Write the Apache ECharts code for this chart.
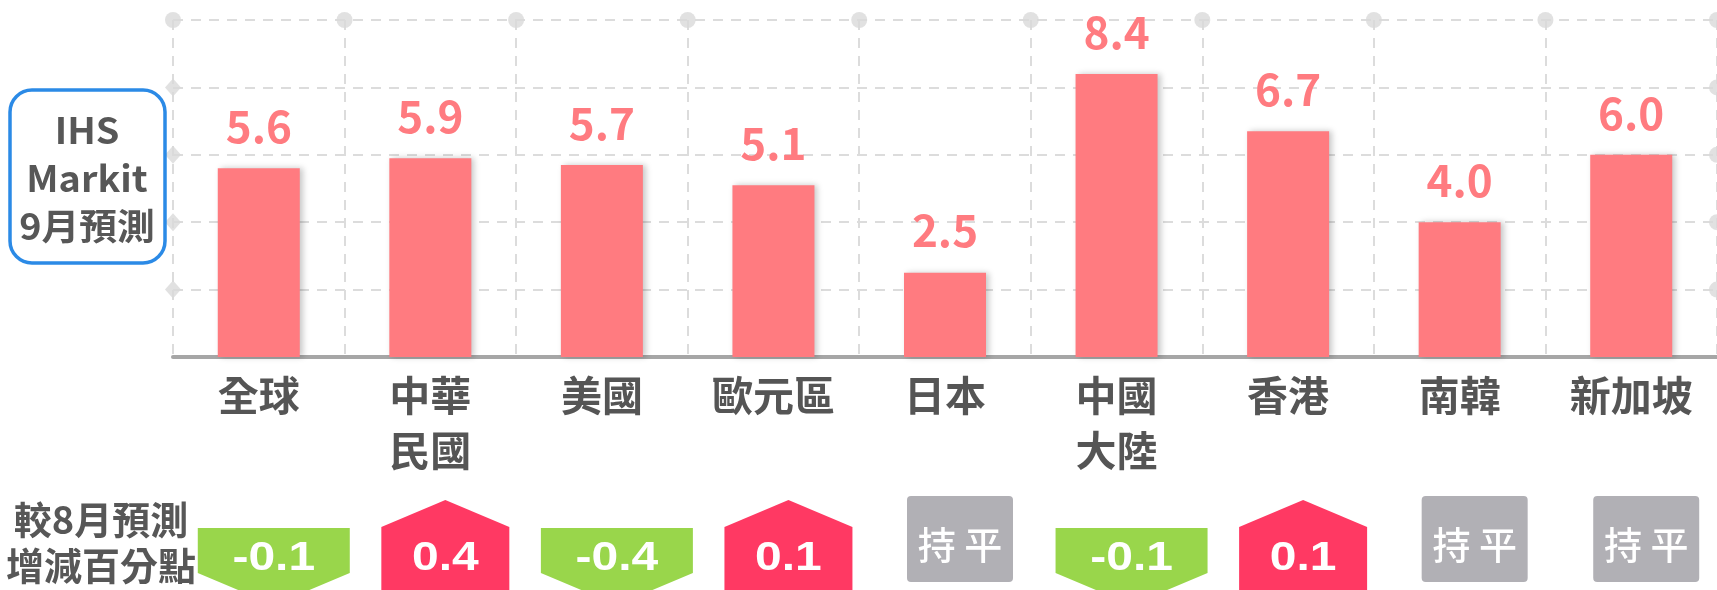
<!DOCTYPE html>
<html>
<head>
<meta charset="utf-8">
<script src="https://cdn.jsdelivr.net/npm/echarts@6/dist/echarts.min.js"></script>
<style>
html,body{margin:0;padding:0;background:#fff;}
#chart{width:1717px;height:590px;}
</style>
</head>
<body>
<div id="chart"></div>
<script>
// ---- data ----
var categories = ['全球', '中華民國', '美國', '歐元區', '日本', '中國大陸', '香港', '南韓', '新加坡'];
var forecastSep = [5.6, 5.9, 5.7, 5.1, 2.5, 8.4, 6.7, 4.0, 6.0];
var changeVsAug = [-0.1, 0.4, -0.4, 0.1, 0, -0.1, 0.1, 0, 0];
var yTicks = [0, 2, 4, 6, 8, 10];
var boxTitle = 'IHS\nMarkit\n9月預測';
var rowTitle = '較8月預測\n增減百分點';
var flatText = '持 平';

// ---- derived marks ----
var nCat = categories.length;
var yMax = yTicks[yTicks.length - 1];
var topDots = [], leftDots = [], rightDots = [];
for (var i = 0; i <= nCat; i++) topDots.push([i, yMax]);
yTicks.slice(1, -1).forEach(function (v) { leftDots.push([0, v]); rightDots.push([nCat, v]); });

var CJK = '"Noto Sans CJK TC", "Noto Sans", sans-serif';
var NUM = '"Liberation Sans", Arial, sans-serif';
var gridColor = '#dcdcdc';

var chart = echarts.init(document.getElementById('chart'), null, {renderer: 'canvas'});
chart.setOption({
  backgroundColor: '#ffffff',
  animation: false,
  grid: {left: 173, top: 20, width: 1545, height: 337, containLabel: false},
  xAxis: [{
    type: 'category',
    data: categories,
    boundaryGap: true,
    axisLine: {show: true, lineStyle: {color: '#a6a6a6', width: 4}},
    axisTick: {show: false},
    splitLine: {show: false},
    axisLabel: {
      interval: 0,
      margin: 11,
      color: '#555555',
      fontFamily: CJK,
      fontWeight: 'bold',
      fontSize: 41,
      lineHeight: 55,
      formatter: function (v) { return v.length === 4 ? v.slice(0, 2) + '\n' + v.slice(2) : v; }
    },
    z: 3
  }, {
    type: 'value',
    min: 0, max: nCat, interval: 1,
    position: 'bottom',
    axisLine: {show: false},
    axisTick: {show: false},
    axisLabel: {show: false},
    splitLine: {show: true, lineStyle: {color: gridColor, width: 2, type: [10, 8]}}
  }],
  yAxis: {
    type: 'value',
    min: 0, max: yMax, interval: 2,
    axisLine: {show: false},
    axisTick: {show: false},
    axisLabel: {show: false},
    splitLine: {show: true, showMinLine: false, lineStyle: {color: gridColor, width: 2, type: [10, 8]}}
  },
  series: [{
    type: 'bar',
    data: forecastSep,
    barWidth: 82,
    itemStyle: {
      color: '#ff7b80',
      shadowColor: 'rgba(0,0,0,0.22)',
      shadowBlur: 6,
      shadowOffsetX: 3
    },
    label: {
      show: true,
      position: 'top',
      distance: 20,
      color: '#ff7b80',
      fontFamily: CJK,
      fontWeight: 'bold',
      fontSize: 44,
      formatter: function (p) { return p.value.toFixed(1); }
    },
    z: 4
  }, {
    type: 'scatter',
    xAxisIndex: 1,
    data: topDots.concat(rightDots),
    symbol: 'circle',
    symbolSize: 16,
    itemStyle: {color: '#d9d9d9'},
    silent: true,
    z: 2
  }, {
    type: 'scatter',
    xAxisIndex: 1,
    data: leftDots,
    symbol: 'diamond',
    symbolSize: [16, 18],
    itemStyle: {color: '#d9d9d9'},
    silent: true,
    z: 2
  }, {
    type: 'custom',
    clip: false,
    data: changeVsAug.map(function (v, i) { return [i, v]; }),
    renderItem: function (params, api) {
      var idx = api.value(0), v = api.value(1);
      var p = api.coord([idx, 0]);
      var cx = p[0] + 15, b = p[1];
      var shape, fill, txt, ty, font, sx;
      if (v > 0) {
        fill = '#ff3963';
        shape = {type: 'polygon', shape: {points: [[cx, b + 143], [cx + 64, b + 170], [cx + 64, b + 233], [cx - 64, b + 233], [cx - 64, b + 170]]}};
        txt = v.toFixed(1); ty = b + 202; sx = 1.2;
        font = 'bold 40px ' + NUM;
      } else if (v < 0) {
        fill = '#99d64b';
        shape = {type: 'polygon', shape: {points: [[cx - 76, b + 171], [cx + 76, b + 171], [cx + 76, b + 216], [cx, b + 248], [cx - 76, b + 216]]}};
        txt = v.toFixed(1); ty = b + 202; sx = 1.2;
        font = 'bold 40px ' + NUM;
      } else {
        fill = '#b1b0b5';
        shape = {type: 'rect', shape: {x: cx - 53, y: b + 139, width: 106, height: 86, r: 4}};
        txt = flatText; ty = b + 188; sx = 1;
        font = '500 38px ' + CJK;
      }
      shape.style = {fill: fill};
      return {
        type: 'group',
        children: [shape, {
          type: 'text',
          x: cx, y: ty, scaleX: sx,
          style: {text: txt, fill: '#ffffff', font: font, textAlign: 'center', textVerticalAlign: 'middle'}
        }]
      };
    },
    z: 5
  }],
  graphic: [{
    type: 'rect',
    shape: {x: 10, y: 90, width: 155, height: 173, r: 22},
    style: {fill: '#ffffff', stroke: '#2b8ae6', lineWidth: 3.5},
    z: 10
  }, {
    type: 'text',
    x: 87, y: 178, scaleX: 1.05,
    style: {text: boxTitle, fill: '#575757', font: 'bold 36px ' + CJK, lineHeight: 48, textAlign: 'center', textVerticalAlign: 'middle'},
    z: 11
  }, {
    type: 'text',
    x: 101, y: 543,
    style: {text: rowTitle, fill: '#575757', font: 'bold 38px ' + CJK, lineHeight: 46, textAlign: 'center', textVerticalAlign: 'middle'},
    z: 11
  }]
});
</script>
</body>
</html>
